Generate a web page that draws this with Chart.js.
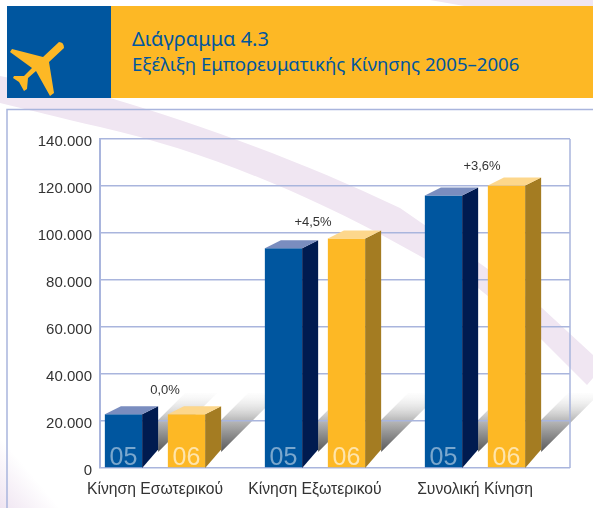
<!DOCTYPE html>
<html lang="el"><head><meta charset="utf-8">
<style>
html,body{margin:0;padding:0;background:#fff;width:593px;height:508px;overflow:hidden}
#bg,#c{position:absolute;left:0;top:0}
.t{position:absolute;left:132px;color:#00569f;font-family:"Noto Sans",sans-serif;line-height:1;white-space:nowrap}
</style>
<script src="https://cdn.jsdelivr.net/npm/chart.js@4/dist/chart.umd.min.js"></script>
</head><body>
<svg id="bg" width="593" height="508" viewBox="0 0 593 508">
<defs><linearGradient id="fade" x1="0" y1="1" x2="0.5" y2="0.5"><stop offset="0" stop-color="#efe4f1"/><stop offset="1" stop-color="#efe4f1" stop-opacity="0"/></linearGradient></defs>
<rect x="7" y="109.500" width="590" height="402" fill="#fff"/>
<path d="M0 76 L110 98 C200 125 300 160 400 208 L478 262 L542 308 L593 355 L593 378 L587 385 L542 340 L478 288 L400 245 C300 190 200 150 100 127 C60 118 30 110 0 103 Z" fill="#f0e6f2"/>
<path d="M430 0 L593 0 L593 7 L470 7 Z" fill="#f0e6f2"/>
<path d="M0 437 L60 508 L0 508 Z" fill="url(#fade)"/>
<path d="M7 508 L7 109.500 L593 109.500" fill="none" stroke="#a9b5dd" stroke-width="1.500"/>
<rect x="7" y="6" width="104" height="92" fill="#00569f"/>
<rect x="111" y="6" width="482" height="92" fill="#fdb825"/>
<path d="M59 42 Q64 42 64 48 L49 62 L54 93 L50 96 L36 71 L28 78 L27 89 L24 91 L19 82 L13 78 L14 76 L24 76 L32 68 L10 52 L12 49 L43 57 Z" fill="#fdb825"/>
</svg>
<div class="t" style="top:29px;font-size:20px">Διάγραμμα 4.3</div>
<div class="t" style="top:55px;font-size:18.6px">Εξέλιξη Εμπορευματικής Κίνησης 2005–2006</div>
<canvas id="c" width="593" height="508" style="width:593px;height:508px"></canvas>
<script>
const categories = ["Κίνηση Εσωτερικού", "Κίνηση Εξωτερικού", "Συνολική Κίνηση"];
const seriesNames = ["05", "06"];
const values05 = [22850, 93500, 116000];
const values06 = [22850, 97700, 120200];
const changeLabels = ["0,0%", "+4,5%", "+3,6%"];

const FRONT = ["#00569f", "#fdb825"];
const SIDE = ["#001b50", "#a47c22"];
const TOP = ["#7a8dbf", "#fdd78c"];
const INK = ["rgba(255,255,255,.48)", "rgba(255,255,255,.62)"];
const DX = 16, DY = 8, GRID = "#a9b5dd";
const LABEL_SHIFT = [[10, 24], [-2, 16], [7, 19]];

function poly(ctx, pts, fill) {
  ctx.beginPath();
  pts.forEach((p, i) => i ? ctx.lineTo(p[0], p[1]) : ctx.moveTo(p[0], p[1]));
  ctx.closePath();
  ctx.fillStyle = fill;
  ctx.fill();
}

const moveCategoryScale = {
  id: "moveCategoryScale",
  afterLayout(chart) {
    const x = chart.scales.x;
    x.left = 75; x.right = 555; x.width = 480;
    x.configure();
  }
};

const depth = {
  id: "depth",
  beforeDraw(chart) {
    const { ctx, chartArea: a, scales: { y } } = chart;
    const base = y.getPixelForValue(0);
    const topY = base - 75;
    const g = ctx.createLinearGradient(0, topY, 0, base - 17);
    g.addColorStop(0, "rgba(240,240,240,.15)");
    g.addColorStop(.45, "#bdbdbd");
    g.addColorStop(1, "#5c5c5c");
    chart.data.datasets.forEach((_, d) => {
      chart.getDatasetMeta(d).data.forEach(b => {
        const r = b.x + b.width / 2, s = r + DX;
        const low = r + base;
        poly(ctx, [[s, low - 32 - s], [low - 32 - topY, topY], [low - topY, topY], [s, low - s]], g);
      });
    });
    ctx.save();
    ctx.strokeStyle = GRID; ctx.lineWidth = 1.5;
    ctx.beginPath(); ctx.moveTo(a.right, a.top); ctx.lineTo(a.right, a.bottom); ctx.stroke();
    ctx.restore();
  },
  afterDatasetsDraw(chart) {
    const { ctx, scales: { y } } = chart;
    const base = y.getPixelForValue(0);
    chart.data.datasets.forEach((ds, d) => {
      chart.getDatasetMeta(d).data.forEach(b => {
        const l = b.x - b.width / 2, r = b.x + b.width / 2, t = b.y;
        poly(ctx, [[r, base], [r + DX, base - 18.5], [r + DX, t - DY], [r, t]], SIDE[d]);
        poly(ctx, [[l, t], [l + DX, t - DY], [r + DX, t - DY], [r, t]], TOP[d]);
        ctx.save();
        ctx.font = '25px "Liberation Sans"';
        ctx.fillStyle = INK[d];
        ctx.textAlign = "center"; ctx.textBaseline = "alphabetic";
        ctx.fillText(ds.label, b.x, base - 3);
        ctx.restore();
      });
    });
    ctx.save();
    ctx.font = '13px "Liberation Sans"';
    ctx.fillStyle = "#333";
    ctx.textAlign = "center"; ctx.textBaseline = "middle";
    changeLabels.forEach((txt, i) => {
      const topBar = chart.getDatasetMeta(1).data[i];
      ctx.fillText(txt, chart.scales.x.getPixelForValue(i) + LABEL_SHIFT[i][0], topBar.y - LABEL_SHIFT[i][1]);
    });
    ctx.restore();
  }
};

new Chart(document.getElementById("c"), {
  type: "bar",
  data: {
    labels: categories,
    datasets: [
      { label: seriesNames[0], data: values05, backgroundColor: FRONT[0] },
      { label: seriesNames[1], data: values06, backgroundColor: FRONT[1] }
    ]
  },
  options: {
    responsive: false,
    animation: false,
    categoryPercentage: 0.7875,
    barPercentage: 0.592,
    layout: { padding: { top: 139, right: 23, left: 0, bottom: 0 } },
    plugins: { legend: { display: false }, tooltip: { enabled: false } },
    scales: {
      x: {
        grid: { display: false },
        border: { display: false },
        afterFit(s) { s.height = 40; },
        ticks: { color: "#333", font: { family: "Liberation Sans", size: 15.7 }, padding: 4, maxRotation: 0, autoSkip: false }
      },
      y: {
        min: 0, max: 140000,
        afterFit(s) { s.width = 100; },
        grid: { color: GRID, lineWidth: 1.5, drawTicks: false },
        border: { color: GRID, width: 2 },
        ticks: {
          stepSize: 20000, color: "#333", padding: 8, labelOffset: 3,
          font: { family: "Liberation Sans", size: 15 },
          callback: v => String(v).replace(/\B(?=(\d{3})+$)/g, ".")
        }
      }
    }
  },
  plugins: [moveCategoryScale, depth]
});
</script>
</body></html>
